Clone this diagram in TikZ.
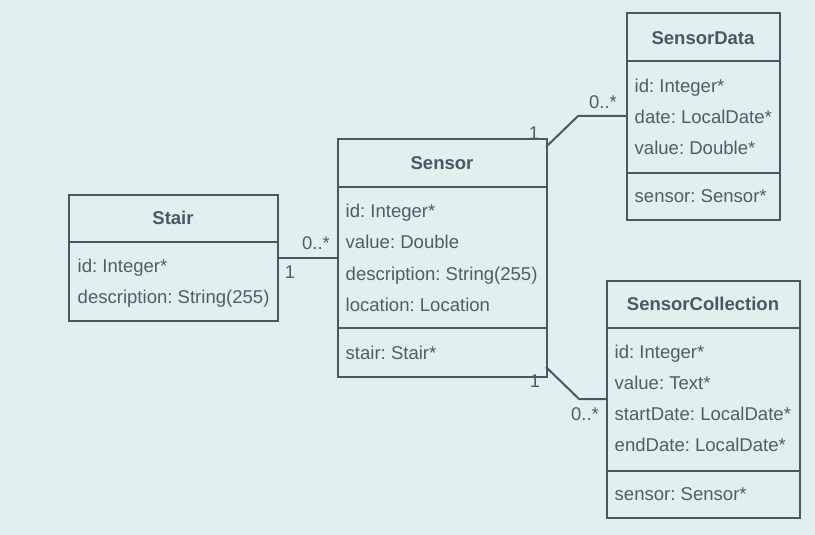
\documentclass[tikz,border=0pt]{standalone}
\usepackage{fontspec}
\setmainfont{Liberation Sans}
\frenchspacing
\definecolor{bgc}{HTML}{E1F0EF}
\definecolor{linec}{HTML}{455A64}
\definecolor{txtc}{HTML}{4E5E66}
\begin{document}
\begin{tikzpicture}[x=1pt,y=-1pt,
  box/.style={draw=linec,line width=2pt,fill=bgc,anchor=north west,inner sep=0pt},
  title/.style={font=\fontsize{18.5}{20}\selectfont\bfseries,text=linec,inner sep=0pt,anchor=base},
  attr/.style={font=\fontsize{18.55}{20}\selectfont\frenchspacing,text=txtc,anchor=base west,inner sep=0pt},
  mult/.style={font=\fontsize{18.4}{20}\selectfont,text=txtc,inner sep=0pt,anchor=base},
  sep/.style={draw=linec,line width=2pt},
  conn/.style={draw=linec,line width=2pt}]
\fill[bgc] (0,0) rectangle (815,535);
\useasboundingbox (0,0) rectangle (815,535);

% Stair
\node[box,minimum width=209pt,minimum height=126pt] (stair) at (68,193.5) {};
\node[title] (stairT) at (173,224.5) {Stair};
\draw[sep] (68,242) -- (277,242);
\node[attr] (stairA1) at (77.5,272.5) {id: Integer*};
\node[attr] (stairA2) at (77.5,303.5) {description: String(255)};

% Sensor
\node[box,minimum width=209pt,minimum height=237pt] (sensor) at (337,138.5) {};
\node[title] (sensorT) at (442,169.5) {Sensor};
\draw[sep] (337,187) -- (546,187);
\node[attr] (sensorA1) at (345.5,217.5) {id: Integer*};
\node[attr] (sensorA2) at (345.5,248.5) {value: Double};
\node[attr] (sensorA3) at (345.5,280.5) {description: String(255)};
\node[attr] (sensorA4) at (345.5,311.5) {location: Location};
\draw[sep] (337,328) -- (546,328);
\node[attr] (sensorM1) at (345.5,359.5) {stair: Stair*};

% SensorData
\node[box,minimum width=153pt,minimum height=206pt] (sd) at (626,12.5) {};
\node[title] (sdT) at (703,44.5) {SensorData};
\draw[sep] (626,61) -- (779,61);
\node[attr] (sdA1) at (634.5,92.5) {id: Integer*};
\node[attr] (sdA2) at (634.5,123.5) {date: LocalDate*};
\node[attr] (sdA3) at (634.5,154.5) {value: Double*};
\draw[sep] (626,173) -- (779,173);
\node[attr] (sdM1) at (634.5,202.5) {sensor: Sensor*};

% SensorCollection
\node[box,minimum width=193pt,minimum height=237pt] (sc) at (606,279.5) {};
\node[title] (scT) at (703,310.5) {SensorCollection};
\draw[sep] (606,328) -- (799,328);
\node[attr] (scA1) at (614.5,358.5) {id: Integer*};
\node[attr] (scA2) at (614.5,389.5) {value: Text*};
\node[attr] (scA3) at (614.5,420.5) {startDate: LocalDate*};
\node[attr] (scA4) at (614.5,451.5) {endDate: LocalDate*};
\draw[sep] (606,471) -- (799,471);
\node[attr] (scM1) at (614.5,500.5) {sensor: Sensor*};

% connectors
\draw[conn] (stair.east) -- (stair.east -| sensor.west);
\node[mult] (m1) at (316,249.5) {0..*};
\node[mult] (m2) at (290,278.5) {1};

\coordinate (s1) at (546,147);
\coordinate (b1) at (578,116);
\coordinate (e1) at (626,116);
\draw[conn] (s1) -- (b1) -- (e1);
\node[mult] (m3) at (534,139.5) {1};
\node[mult] (m4) at (603,108.5) {0..*};

\coordinate (s2) at (546,367);
\coordinate (b2) at (579,399);
\coordinate (e2) at (606,399);
\draw[conn] (s2) -- (b2) -- (e2);
\node[mult] (m5) at (535,387.5) {1};
\node[mult] (m6) at (585,420.5) {0..*};
\end{tikzpicture}
\end{document}
